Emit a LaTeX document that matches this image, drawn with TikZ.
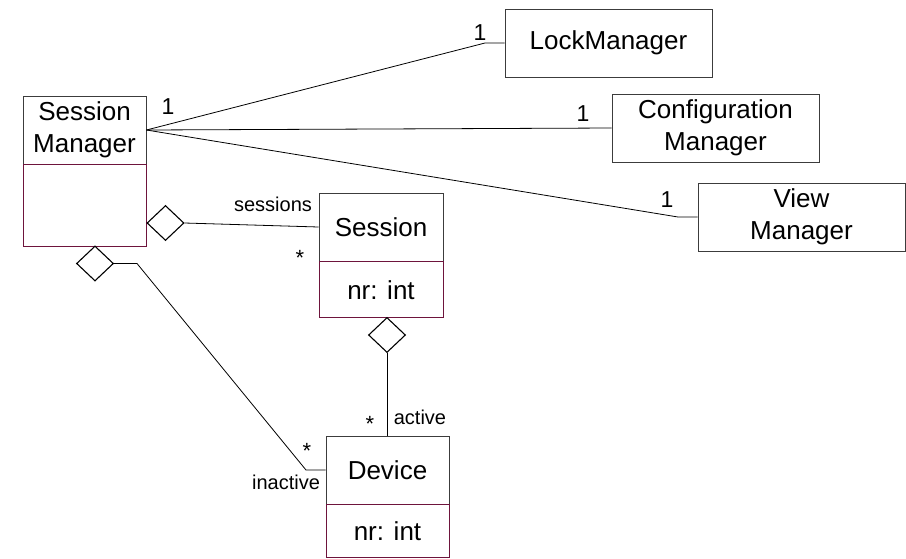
\documentclass[tikz,border=0pt]{standalone}
\usepackage{fontspec}
\setmainfont{Liberation Sans}
\usetikzlibrary{shapes.geometric}
\definecolor{boxgray}{RGB}{60,60,60}
\definecolor{maroon}{RGB}{110,20,60}
\newcommand{\classfont}{\fontsize{26}{32}\selectfont}
\newcommand{\rolefont}{\fontsize{20}{24}\selectfont}
\newcommand{\multfont}{\fontsize{23}{26}\selectfont}
\newcommand{\starfont}{\fontsize{22}{24}\selectfont}
\tikzset{
  ctop/.style={draw=boxgray, fill=white, line width=0.9pt, inner sep=0pt,
               align=center, font=\classfont},
  cbot/.style={draw=maroon, line width=0.9pt, inner sep=0pt, anchor=north,
               font=\classfont},
  agg/.style={diamond, draw=black, fill=white, line width=1.1pt, inner sep=0pt,
              minimum width=37pt, minimum height=35pt},
  conn/.style={draw=black, line width=0.8pt},
  role/.style={inner sep=0pt, font=\rolefont},
  mult/.style={inner sep=0pt, font=\multfont},
  star/.style={inner sep=0pt, font=\starfont},
}
\begin{document}
\begin{tikzpicture}[x=1pt,y=-1pt]
\useasboundingbox (0,0) rectangle (906,558);

% classes
\node[ctop, minimum width=123pt, minimum height=68pt] (sm) at (84.5,130) {Session\\Manager};
\node[cbot, minimum width=123pt, minimum height=82pt] (smb) at (sm.south) {};

\node[ctop, minimum width=124pt, minimum height=68pt] (ses) at (381,227) {Session};
\node[cbot, minimum width=124pt, minimum height=56pt] (sesb) at (ses.south) {nr: int};

\node[ctop, minimum width=123pt, minimum height=68pt] (dev) at (387.5,470) {Device};
\node[cbot, minimum width=123pt, minimum height=53pt] (devb) at (dev.south) {nr: int};

\node[ctop, minimum width=207pt, minimum height=68pt] (lock) at (608.5,43) {LockManager};
\node[ctop, minimum width=207pt, minimum height=68pt] (cfg) at (715.5,128) {Configuration\\Manager};
\node[ctop, minimum width=207pt, minimum height=68pt] (view) at (801.5,217) {View\\Manager};

% aggregation diamonds
\node[agg] (d1) at (165.5,223) {};
\node[agg] (d2) at (95,263.5) {};
\node[agg] (d3) at (387,335) {};

% associations
\draw[conn] (sm.east) -- (485,43) -- (lock.west);
\draw[conn] (sm.east) -- (cfg.west);
\draw[conn] (sm.east) -- (678,217) -- (view.west);
\draw[conn] (d1.east) -- (ses.west);
\draw[conn] (d2.east) -- (137,263.5) -- (306,470) -- (dev.west);
\draw[conn] (d3.south) -- (d3.south |- dev.north);

% multiplicities and role names
\node[mult] (m0) at (168,107) {1};
\node[mult] (m1) at (480,33) {1};
\node[mult] (m2) at (583,114) {1};
\node[mult] (m3) at (667,200) {1};
\node[role] (rs) at (273,204) {sessions};
\node[star] (ss) at (300,258) {*};
\node[role] (ra) at (420,417) {active};
\node[star] (sa) at (370,424) {*};
\node[role] (ri) at (286,482) {inactive};
\node[star] (si) at (307,451) {*};
\end{tikzpicture}
\end{document}
